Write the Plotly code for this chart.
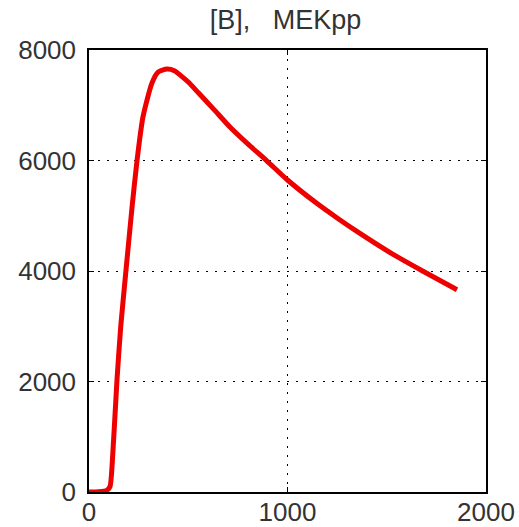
import plotly.graph_objects as go

t = [0, 50, 90, 106, 120, 141, 160, 186, 217, 242, 272, 317, 348, 393, 430, 458,
     500, 550, 630, 710, 800, 897, 1000, 1149, 1250, 1365, 1532, 1683, 1854]
mekpp = [0, 5, 30, 100, 700, 2030, 3000, 4000, 5160, 6000, 6790, 7400, 7600, 7656, 7625, 7550,
         7420, 7230, 6920, 6606, 6300, 5990, 5647, 5220, 4960, 4680, 4300, 3995, 3660]

x_ticks = [0, 1000, 2000]
y_ticks = [0, 2000, 4000, 6000, 8000]
title = "[B],   MEKpp"

fig = go.Figure()
fig.add_trace(go.Scatter(x=t, y=mekpp, mode="lines",
                         line=dict(color="#ee0000", width=5, shape="spline", smoothing=0.6),
                         showlegend=False))

font = dict(family="Liberation Sans, Arial, sans-serif", size=26, color="#333333")
axis_common = dict(showline=True, linecolor="black", linewidth=1.5, mirror="allticks",
                   ticks="inside", ticklen=5, tickcolor="black", tickwidth=1,
                   showgrid=True, gridcolor="black", gridwidth=1, griddash="1.5px,7.5px",
                   zeroline=False, tickfont=font, automargin=False)
fig.update_xaxes(range=[0, 2000], tickvals=x_ticks, ticktext=[str(v) for v in x_ticks],
                 ticklabelstandoff=-4, **axis_common)
fig.update_yaxes(range=[0, 8000], tickvals=y_ticks, ticktext=[str(v) for v in y_ticks],
                 ticklabelstandoff=6, **axis_common)

fig.update_layout(
    width=519, height=527,
    margin=dict(l=89, r=33, t=50, b=35),
    paper_bgcolor="white", plot_bgcolor="white",
    title=dict(text=title, x=0.55, xanchor="center", y=0.962, yanchor="middle",
               font=dict(family="Liberation Sans, Arial, sans-serif", size=27, color="#333333")),
)
fig.write_html("out.html")
